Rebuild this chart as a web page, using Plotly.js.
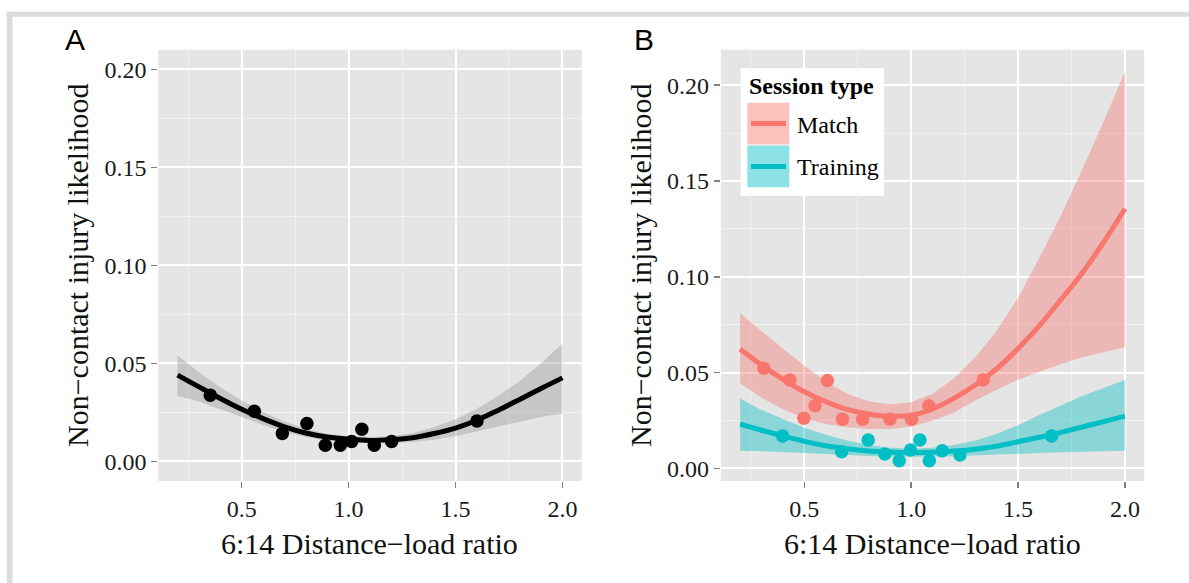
<!DOCTYPE html>
<html>
<head>
<meta charset="utf-8">
<script src="https://cdn.plot.ly/plotly-3.0.1.min.js"></script>
<style>html,body{margin:0;padding:0;background:#fff;}#chart{width:1189px;height:583px;}</style>
</head>
<body>
<div id="chart"></div>
<script>
// ---------- data ----------
const curveX = [0.2,0.3,0.4,0.5,0.6,0.7,0.8,0.9,1.0,1.1,1.2,1.3,1.4,1.5,1.6,1.7,1.8,1.9,2.0];

// Panel A: all sessions
const allPointsX = [0.353,0.559,0.690,0.805,0.891,0.961,1.014,1.062,1.120,1.201,1.600];
const allPointsY = [0.0338,0.0256,0.0142,0.0193,0.0082,0.0082,0.0102,0.0164,0.0082,0.0102,0.0206];
const allFit   = [0.0440,0.0380,0.0321,0.0266,0.0218,0.0176,0.0145,0.0124,0.0113,0.0107,0.0111,0.0121,0.0142,0.0170,0.0210,0.0261,0.0316,0.0372,0.0426];
const allUpper = [0.0542,0.0455,0.0378,0.0310,0.0252,0.0203,0.0166,0.0141,0.0129,0.0124,0.0130,0.0145,0.0175,0.0215,0.0268,0.0335,0.0410,0.0500,0.0602];
const allLower = [0.0333,0.0305,0.0268,0.0225,0.0186,0.0150,0.0124,0.0107,0.0098,0.0092,0.0093,0.0099,0.0111,0.0128,0.0152,0.0178,0.0203,0.0226,0.0244];

// Panel B: Match
const matchPointsX = [0.311,0.433,0.608,0.498,0.550,0.679,0.773,0.901,1.002,1.083,1.337];
const matchPointsY = [0.0522,0.0461,0.0458,0.0261,0.0327,0.0256,0.0256,0.0256,0.0256,0.0327,0.0461];
const matchFit   = [0.0621,0.0539,0.0465,0.0400,0.0348,0.0308,0.0284,0.0272,0.0277,0.0310,0.0365,0.0435,0.0520,0.0625,0.0745,0.0880,0.1020,0.1180,0.1355];
const matchUpper = [0.0810,0.0715,0.0625,0.0535,0.0455,0.0390,0.0350,0.0335,0.0345,0.0390,0.0470,0.0580,0.0720,0.0890,0.1100,0.1320,0.1560,0.1810,0.2070];
const matchLower = [0.0444,0.0368,0.0308,0.0262,0.0232,0.0214,0.0206,0.0206,0.0217,0.0250,0.0292,0.0354,0.0410,0.0462,0.0505,0.0545,0.0580,0.0607,0.0632];

// Panel B: Training
const trainPointsX = [0.399,0.675,0.799,0.877,0.944,0.997,1.041,1.085,1.145,1.228,1.657];
const trainPointsY = [0.0169,0.0087,0.0148,0.0075,0.0040,0.0096,0.0148,0.0040,0.0092,0.0070,0.0169];
const trainFit   = [0.0231,0.0199,0.0169,0.0141,0.0118,0.0102,0.0091,0.0085,0.0082,0.0084,0.0090,0.0100,0.0116,0.0139,0.0162,0.0188,0.0216,0.0244,0.0273];
const trainUpper = [0.0365,0.0305,0.0258,0.0212,0.0175,0.0145,0.0122,0.0108,0.0104,0.0108,0.0122,0.0146,0.0180,0.0225,0.0278,0.0330,0.0378,0.0420,0.0461];
const trainLower = [0.0092,0.0090,0.0086,0.0080,0.0074,0.0069,0.0065,0.0062,0.0061,0.0061,0.0063,0.0066,0.0070,0.0075,0.0080,0.0084,0.0088,0.0090,0.0092];

const seriesNames = ['Match','Training'];
const panelLabels = ['A','B'];
const xTitle = '6:14 Distance\u2212load ratio';
const yTitle = 'Non\u2212contact injury likelihood';
const legendTitle = 'Session type';

// ---------- styling ----------
const W = 1189, H = 583;
const fx = p => p / W;
const fy = p => 1 - p / H;
const SERIF = 'Liberation Serif, Times New Roman, Times, serif';
const SANS = 'Liberation Sans, Arial, Helvetica, sans-serif';
const RED = '#F8766D', TEAL = '#00BFC4';

function ribbon(xs, up, lo, fill, xa, ya) {
  return {x: xs.concat(xs.slice().reverse()), y: up.concat(lo.slice().reverse()),
    type: 'scatter', mode: 'lines', fill: 'toself', fillcolor: fill,
    line: {width: 0, color: 'rgba(0,0,0,0)'}, hoverinfo: 'skip', showlegend: false, xaxis: xa, yaxis: ya};
}
function fitLine(xs, ys, color, xa, ya) {
  return {x: xs, y: ys, type: 'scatter', mode: 'lines', line: {color: color, width: 5, shape: 'spline'},
    showlegend: false, xaxis: xa, yaxis: ya};
}
function pts(xs, ys, color, xa, ya) {
  return {x: xs, y: ys, type: 'scatter', mode: 'markers', marker: {color: color, size: 13.5},
    showlegend: false, xaxis: xa, yaxis: ya};
}

const traces = [
  ribbon(curveX, allUpper, allLower, 'rgba(153,153,153,0.4)', 'x', 'y'),
  pts(allPointsX, allPointsY, '#000000', 'x', 'y'),
  fitLine(curveX, allFit, '#000000', 'x', 'y'),
  ribbon(curveX, matchUpper, matchLower, 'rgba(248,118,109,0.4)', 'x2', 'y2'),
  ribbon(curveX, trainUpper, trainLower, 'rgba(0,191,196,0.4)', 'x2', 'y2'),
  pts(matchPointsX, matchPointsY, RED, 'x2', 'y2'),
  pts(trainPointsX, trainPointsY, TEAL, 'x2', 'y2'),
  fitLine(curveX, matchFit, RED, 'x2', 'y2'),
  fitLine(curveX, trainFit, TEAL, 'x2', 'y2')
];

function xAxis(d0, d1, anchor) {
  return {domain: [fx(d0), fx(d1)], range: [0.11, 2.09], anchor: anchor,
    tick0: 0, dtick: 0.5, tickformat: '.1f',
    showgrid: true, gridcolor: '#FFFFFF', gridwidth: 2,
    minor: {dtick: 0.25, tick0: 0, showgrid: true, gridcolor: '#F2F2F2', gridwidth: 1, ticks: ''},
    ticks: 'outside', ticklen: 6, tickwidth: 1.5, tickcolor: '#7F7F7F',
    zeroline: false, showline: false, fixedrange: true,
    tickfont: {family: SERIF, size: 24, color: '#1A1A1A'}};
}
function yAxis(range, anchor) {
  return {domain: [fy(481), fy(49.7)], range: range, anchor: anchor,
    tick0: 0, dtick: 0.05, tickformat: '.2f',
    showgrid: true, gridcolor: '#FFFFFF', gridwidth: 2,
    minor: {dtick: 0.025, tick0: 0, showgrid: true, gridcolor: '#F2F2F2', gridwidth: 1, ticks: ''},
    ticks: 'outside', ticklen: 6, tickwidth: 1.5, tickcolor: '#7F7F7F',
    zeroline: false, showline: false, fixedrange: true,
    tickfont: {family: SERIF, size: 24, color: '#1A1A1A'}};
}

const shapes = [
  // outer frame (top and left)
  {type: 'rect', xref: 'paper', yref: 'paper', x0: fx(6.7), x1: fx(1189), y0: fy(16.7), y1: fy(11.7), fillcolor: '#DCDCDC', line: {width: 0}, layer: 'below'},
  {type: 'rect', xref: 'paper', yref: 'paper', x0: fx(6.7), x1: fx(12.5), y0: fy(583), y1: fy(11.7), fillcolor: '#DCDCDC', line: {width: 0}, layer: 'below'},
  // legend box
  {type: 'rect', xref: 'paper', yref: 'paper', x0: fx(740.7), x1: fx(884), y0: fy(195.7), y1: fy(68.3), fillcolor: '#FFFFFF', line: {width: 0}},
  {type: 'rect', xref: 'paper', yref: 'paper', x0: fx(747.3), x1: fx(789.3), y0: fy(144.5), y1: fy(102.7), fillcolor: 'rgba(248,118,109,0.45)', line: {width: 0}},
  {type: 'rect', xref: 'paper', yref: 'paper', x0: fx(747.3), x1: fx(789.3), y0: fy(187.3), y1: fy(145.5), fillcolor: 'rgba(0,191,196,0.45)', line: {width: 0}},
  {type: 'line', xref: 'paper', yref: 'paper', x0: fx(751), x1: fx(786), y0: fy(123.5), y1: fy(123.5), line: {color: RED, width: 5}},
  {type: 'line', xref: 'paper', yref: 'paper', x0: fx(751), x1: fx(786), y0: fy(166.5), y1: fy(166.5), line: {color: TEAL, width: 5}}
];

const ann = (text, x, y, opts) => Object.assign({text: text, xref: 'paper', yref: 'paper', x: fx(x), y: fy(y),
  showarrow: false, xanchor: 'center', yanchor: 'middle', font: {family: SERIF, size: 30, color: '#111111'}}, opts || {});

const annotations = [
  ann(panelLabels[0], 74.7, 40, {font: {family: SANS, size: 30, color: '#000000'}}),
  ann(panelLabels[1], 644, 40, {font: {family: SANS, size: 30, color: '#000000'}}),
  ann(yTitle, 77, 265, {textangle: -90}),
  ann(yTitle, 640, 265, {textangle: -90}),
  ann(xTitle, 369, 543),
  ann(xTitle, 932, 543),
  ann('<b>' + legendTitle + '</b>', 747, 86, {xanchor: 'left', font: {family: SERIF, size: 24, color: '#000000'}}),
  ann(seriesNames[0], 795, 125, {xanchor: 'left', font: {family: SERIF, size: 24, color: '#000000'}}),
  ann(seriesNames[1], 795, 167, {xanchor: 'left', font: {family: SERIF, size: 24, color: '#000000'}})
];

const layout = {
  width: W, height: H, margin: {l: 0, r: 0, t: 0, b: 0},
  paper_bgcolor: '#FFFFFF', plot_bgcolor: '#E5E5E5', showlegend: false,
  xaxis: xAxis(158.3, 581.7, 'y'),
  yaxis: yAxis([-0.01, 0.21], 'x'),
  xaxis2: xAxis(720.9, 1144.2, 'y2'),
  yaxis2: yAxis([-0.0066, 0.2185], 'x2'),
  shapes: shapes, annotations: annotations
};

Plotly.newPlot('chart', traces, layout, {displayModeBar: false, staticPlot: true});
</script>
</body>
</html>
